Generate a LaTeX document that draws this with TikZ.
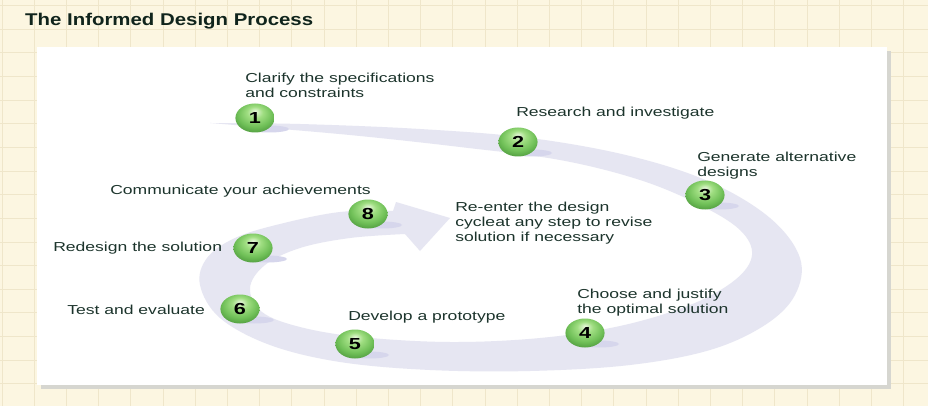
\documentclass[tikz,border=0pt]{standalone}
\usepackage{fontspec}
\setmainfont{Liberation Sans}
\definecolor{bgyel}{RGB}{252,246,225}
\definecolor{gridc}{RGB}{239,230,202}
\definecolor{bandc}{RGB}{230,230,242}
\definecolor{bandsh}{RGB}{214,214,236}
\definecolor{txtc}{RGB}{28,52,44}
\definecolor{ballhi}{RGB}{232,248,220}
\definecolor{ballmid}{RGB}{160,222,130}
\definecolor{ballout}{RGB}{112,192,88}
\definecolor{ballrim}{RGB}{84,160,66}
\definecolor{shadc}{RGB}{214,214,208}
\pgfdeclareradialshading{greenball}{\pgfpoint{0bp}{12bp}}{%
  color(0bp)=(ballhi); color(10bp)=(ballmid); color(22bp)=(ballout);
  color(30bp)=(ballrim); color(50bp)=(ballrim)}
\begin{document}
\begin{tikzpicture}[x=1pt,y=-1pt,
  lbl/.style={anchor=base west, inner sep=0pt, text=txtc,
    font=\fontsize{13}{15}\selectfont, xscale=1.35, transform shape, align=left},
  ttl/.style={anchor=base west, inner sep=0pt, text={rgb,255:red,16;green,36;blue,28},
    font=\fontsize{17}{19}\selectfont\bfseries, xscale=1.2, transform shape},
  numball/.style={circle, shading=greenball, minimum size=29pt, inner sep=0pt,
    font=\fontsize{16}{16}\selectfont\bfseries, text=black, xscale=1.35, transform shape},
  ballsh/.style={fill=bandsh}]
\useasboundingbox (0,0) rectangle (928,406);
% background grid paper
\fill[bgyel] (0,0) rectangle (928,406);
\foreach \i in {0,...,29} {\draw[gridc, line width=0.8pt] ({2+32.2*\i},0) -- ({2+32.2*\i},406);}
\foreach \j in {0,...,17} {\draw[gridc, line width=0.8pt] (0,{5.4+23.65*\j}) -- (928,{5.4+23.65*\j});}
% title
\node[ttl] (title) at (25,26) {The Informed Design Process};
% panel with shadow
\fill[shadc] (41,51) rectangle (891,389);
\fill[white] (37,47) rectangle (887,385);
% the spiral band with arrowhead
\fill[bandc] plot[smooth, tension=0.6] coordinates {
  (210,123) (300,124) (420,129) (530,138) (630,156) (710,182) (770,218) (800,258)
  (795,295) (765,325) (710,350) (630,365) (530,371) (430,370) (340,362) (270,345)
  (220,318) (200,285) (207,258) (235,238) (280,224) (340,212) (393,211)}
  -- (396,202) -- (450,218) -- (420,251) -- (405,234)
  -- plot[smooth, tension=0.6] coordinates {
  (405,234) (350,238) (300,248) (265,265) (250,288) (262,312) (300,327) (360,337)
  (450,342) (540,338) (620,326) (690,305) (735,280) (752,255) (740,230) (700,205)
  (640,180) (560,160) (460,147) (360,136) (270,128) (210,123)} -- cycle;
% ball shadows
\foreach \x/\y in {255/118, 518/142, 705/195, 585/333, 355/344, 240/309, 253/248, 368/214}
  {\fill[ballsh] (\x+14,\y+11) ellipse (20 and 3.5);}
% numbered balls
\node[numball] (n1) at (255,118) {1};
\node[numball] (n2) at (518,142) {2};
\node[numball] (n3) at (705,195) {3};
\node[numball] (n4) at (585,333) {4};
\node[numball] (n5) at (355,344) {5};
\node[numball] (n6) at (240,309) {6};
\node[numball] (n7) at (253,248) {7};
\node[numball] (n8) at (368,214) {8};
% labels (multi-line nodes are anchored on the baseline of their last line)
\node[lbl] (t1) at (245,98) {Clarify the specifications\\and constraints};
\node[lbl] (t2) at (516,117) {Research and investigate};
\node[lbl] (t3) at (697,177) {Generate alternative\\designs};
\node[lbl] (t4) at (577,313) {Choose and justify\\the optimal solution};
\node[lbl] (t5) at (348,320) {Develop a prototype};
\node[lbl] (t6) at (67,314) {Test and evaluate};
\node[lbl] (t7) at (53,251) {Redesign the solution};
\node[lbl] (t8) at (110,194) {Communicate your achievements};
\node[lbl] (tr) at (455,241) {Re-enter the design\\cycleat any step to revise\\solution if necessary};
\end{tikzpicture}
\end{document}
